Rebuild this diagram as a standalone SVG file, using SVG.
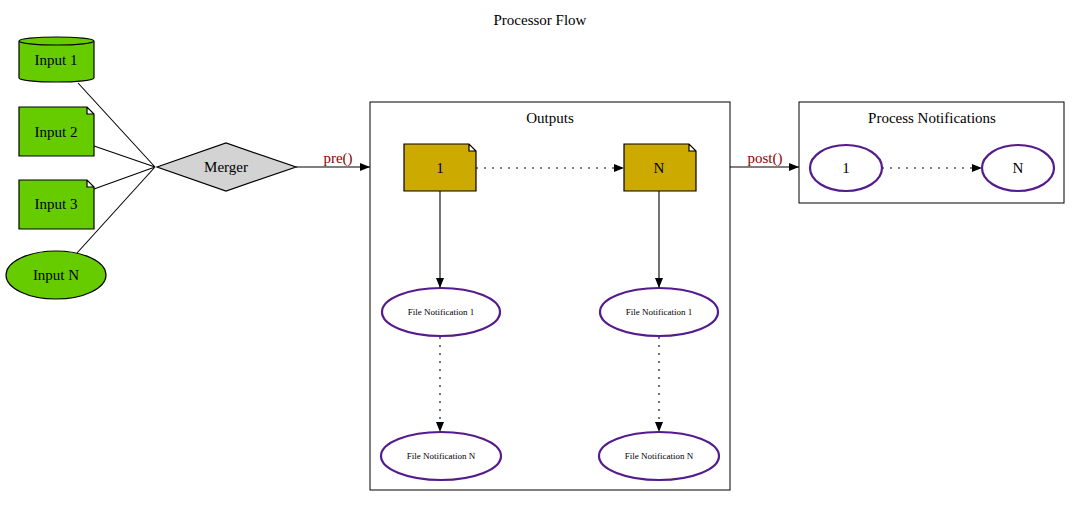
<svg xmlns="http://www.w3.org/2000/svg" width="1081" height="507" viewBox="0 0 1081 507">
<style>
text{font-family:"Liberation Serif","Times New Roman",serif;text-anchor:middle;fill:#000}
.t{font-size:15px}
.s{font-size:9px}
.lbl{font-size:15px;fill:#8b0000}
.g{fill:#66cc00;stroke:#000;stroke-width:1.2}
.y{fill:#ccaa00;stroke:#000;stroke-width:1.2}
.p{fill:#fff;stroke:#551a8b;stroke-width:2.2}
.e{stroke:#000;stroke-width:1.1;fill:none}
.d{stroke-dasharray:2,6}
.c{fill:none;stroke:#000;stroke-width:1}
</style>
<defs><marker id="a" markerWidth="10" markerHeight="8" refX="10" refY="4" orient="auto" markerUnits="userSpaceOnUse"><path d="M0,0L10,4L0,8z" fill="#000"/></marker></defs>
<rect width="1081" height="507" fill="#fff"/>
<text x="540" y="25" class="t">Processor Flow</text>
<g id="cluster_outputs"><rect x="370" y="102" width="360" height="388" class="c"/><text x="550" y="123" class="t">Outputs</text></g>
<g id="cluster_notify"><rect x="799" y="102" width="265" height="101" class="c"/><text x="932" y="123" class="t">Process Notifications</text></g>
<g id="edges">
<path class="e" d="M78,83L155,167M94,146L155,167M94,189L155,167M77,253L155,167"/>
<path class="e" d="M296,167H370" marker-end="url(#a)"/>
<text x="338" y="163" class="lbl">pre()</text>
<path class="e" d="M730,167H799" marker-end="url(#a)"/>
<text x="765" y="163" class="lbl">post()</text>
<path class="e d" d="M476,168H624" marker-end="url(#a)"/>
<path class="e d" d="M882,168H982" marker-end="url(#a)"/>
<path class="e" d="M440,191V288" marker-end="url(#a)"/>
<path class="e" d="M659,191V288" marker-end="url(#a)"/>
<path class="e d" d="M440,337V432" marker-end="url(#a)"/>
<path class="e d" d="M659,337V432" marker-end="url(#a)"/>
</g>
<g id="input1"><path class="g" d="M19,41V78A37.5,4 0 0 0 94,78V41A37.5,4 0 0 0 19,41A37.5,4 0 0 0 94,41"/><text x="56" y="65" class="t">Input 1</text></g>
<g id="input2"><path class="g" d="M19,107H87L94,114V156H19Z M87,107V114H94"/><text x="56" y="137" class="t">Input 2</text></g>
<g id="input3"><path class="g" d="M19,180H87L94,187V229H19Z M87,180V187H94"/><text x="56" y="209" class="t">Input 3</text></g>
<g id="inputN"><ellipse cx="56" cy="275" rx="50" ry="24" class="g"/><text x="56" y="280" class="t">Input N</text></g>
<g id="merger"><path d="M157,167L226,143L296,167L226,191Z" fill="#d3d3d3" stroke="#000" stroke-width="1.2"/><text x="226" y="172" class="t">Merger</text></g>
<g id="out1"><path class="y" d="M404,144H469L476,151V191H404Z M469,144V151H476"/><text x="440" y="173" class="t">1</text></g>
<g id="outN"><path class="y" d="M624,144H689L696,151V191H624Z M689,144V151H696"/><text x="659" y="173" class="t">N</text></g>
<g id="fn1a"><ellipse cx="441" cy="312" rx="59" ry="24" class="p"/><text x="441" y="315" class="s">File Notification 1</text></g>
<g id="fn1b"><ellipse cx="659" cy="312" rx="59" ry="24" class="p"/><text x="659" y="315" class="s">File Notification 1</text></g>
<g id="fnNa"><ellipse cx="441" cy="456" rx="60" ry="24" class="p"/><text x="441" y="459" class="s">File Notification N</text></g>
<g id="fnNb"><ellipse cx="659" cy="456" rx="60" ry="24" class="p"/><text x="659" y="459" class="s">File Notification N</text></g>
<g id="pn1"><ellipse cx="846" cy="168" rx="36" ry="23" class="p"/><text x="846" y="173" class="t">1</text></g>
<g id="pnN"><ellipse cx="1018" cy="168" rx="36" ry="23" class="p"/><text x="1018" y="173" class="t">N</text></g>
</svg>
